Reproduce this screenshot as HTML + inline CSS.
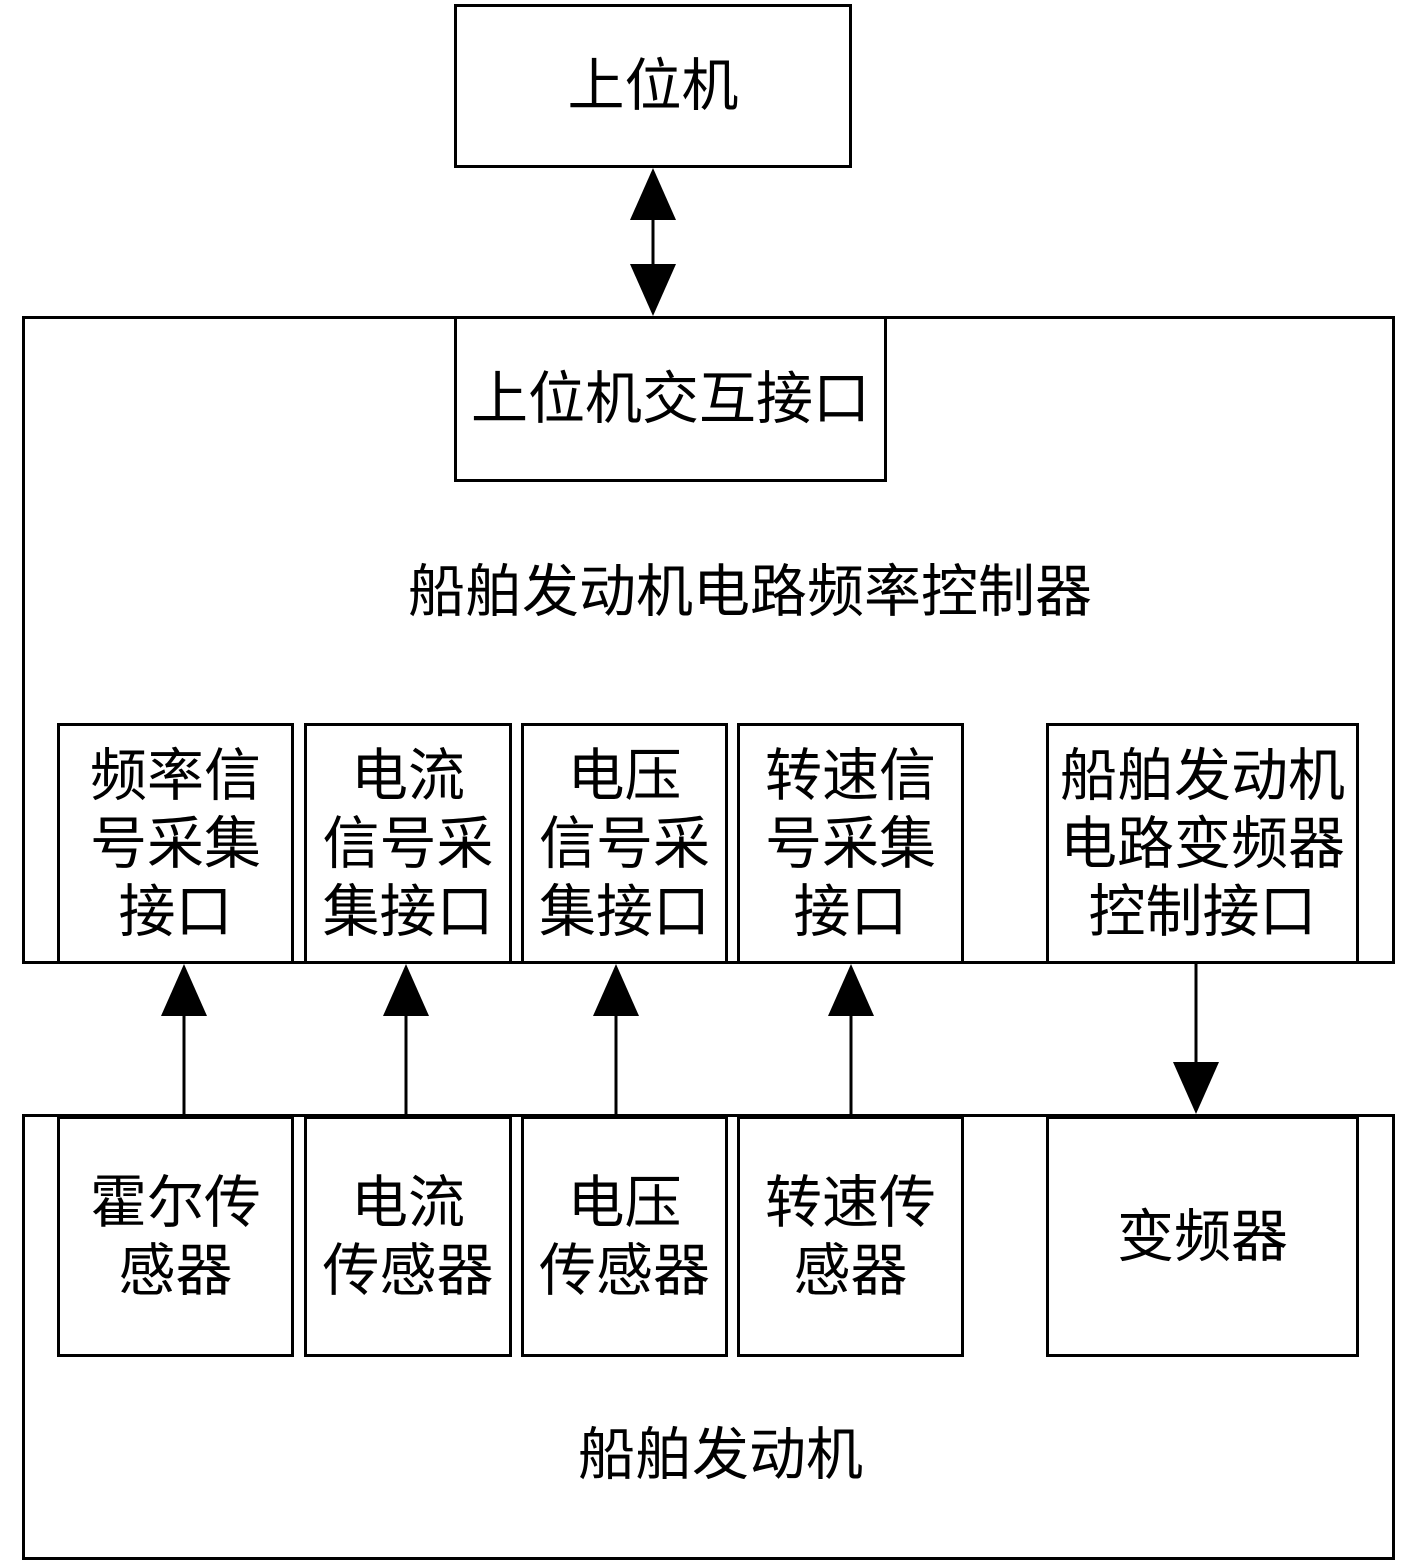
<!DOCTYPE html>
<html><head><meta charset="utf-8"><style>
body{margin:0;background:#fff;width:1417px;height:1566px;position:relative;overflow:hidden;font-family:"Liberation Sans","Noto Sans CJK SC",sans-serif;}
.b{position:absolute;border:3px solid #000;box-sizing:border-box;background:#fff;display:flex;align-items:center;justify-content:center;text-align:center;font-size:57px;line-height:68px;color:#000;}
.t{position:absolute;font-size:57px;line-height:68px;white-space:nowrap;}
svg{position:absolute;left:0;top:0}
</style></head><body>
<div class="b" style="left:22px;top:316px;width:1373px;height:648px;"></div>
<div class="b" style="left:22px;top:1114px;width:1373px;height:446px;"></div>
<div class="b" style="left:454px;top:4px;width:398px;height:164px;">上位机</div>
<div class="b" style="left:454px;top:316px;width:433px;height:166px;">上位机交互接口</div>
<div class="t" style="left:408px;top:558px;">船舶发动机电路频率控制器</div>
<div class="b" style="left:57px;top:723px;width:237px;height:241px;">频率信<br>号采集<br>接口</div>
<div class="b" style="left:304px;top:723px;width:208px;height:241px;">电流<br>信号采<br>集接口</div>
<div class="b" style="left:521px;top:723px;width:207px;height:241px;">电压<br>信号采<br>集接口</div>
<div class="b" style="left:737px;top:723px;width:227px;height:241px;">转速信<br>号采集<br>接口</div>
<div class="b" style="left:1046px;top:723px;width:313px;height:241px;">船舶发动机<br>电路变频器<br>控制接口</div>
<div class="b" style="left:57px;top:1116px;width:237px;height:241px;">霍尔传<br>感器</div>
<div class="b" style="left:304px;top:1116px;width:208px;height:241px;">电流<br>传感器</div>
<div class="b" style="left:521px;top:1116px;width:207px;height:241px;">电压<br>传感器</div>
<div class="b" style="left:737px;top:1116px;width:227px;height:241px;">转速传<br>感器</div>
<div class="b" style="left:1046px;top:1116px;width:313px;height:241px;">变频器</div>
<div class="t" style="left:578px;top:1421px;">船舶发动机</div>
<svg width="1417" height="1566">
<g stroke="#000" stroke-width="3" fill="none">
<line x1="653" y1="210" x2="653" y2="275"/>
<line x1="184" y1="1010" x2="184" y2="1115"/>
<line x1="406" y1="1010" x2="406" y2="1115"/>
<line x1="616" y1="1010" x2="616" y2="1115"/>
<line x1="851" y1="1010" x2="851" y2="1115"/>
<line x1="1196" y1="962" x2="1196" y2="1065"/>
</g>
<g fill="#000">
<polygon points="653,168 630,220 676,220"/>
<polygon points="653,316 630,264 676,264"/>
<polygon points="184,964 161,1016 207,1016"/>
<polygon points="406,964 383,1016 429,1016"/>
<polygon points="616,964 593,1016 639,1016"/>
<polygon points="851,964 828,1016 874,1016"/>
<polygon points="1196,1114 1173,1062 1219,1062"/>
</g>
</svg>
</body></html>
